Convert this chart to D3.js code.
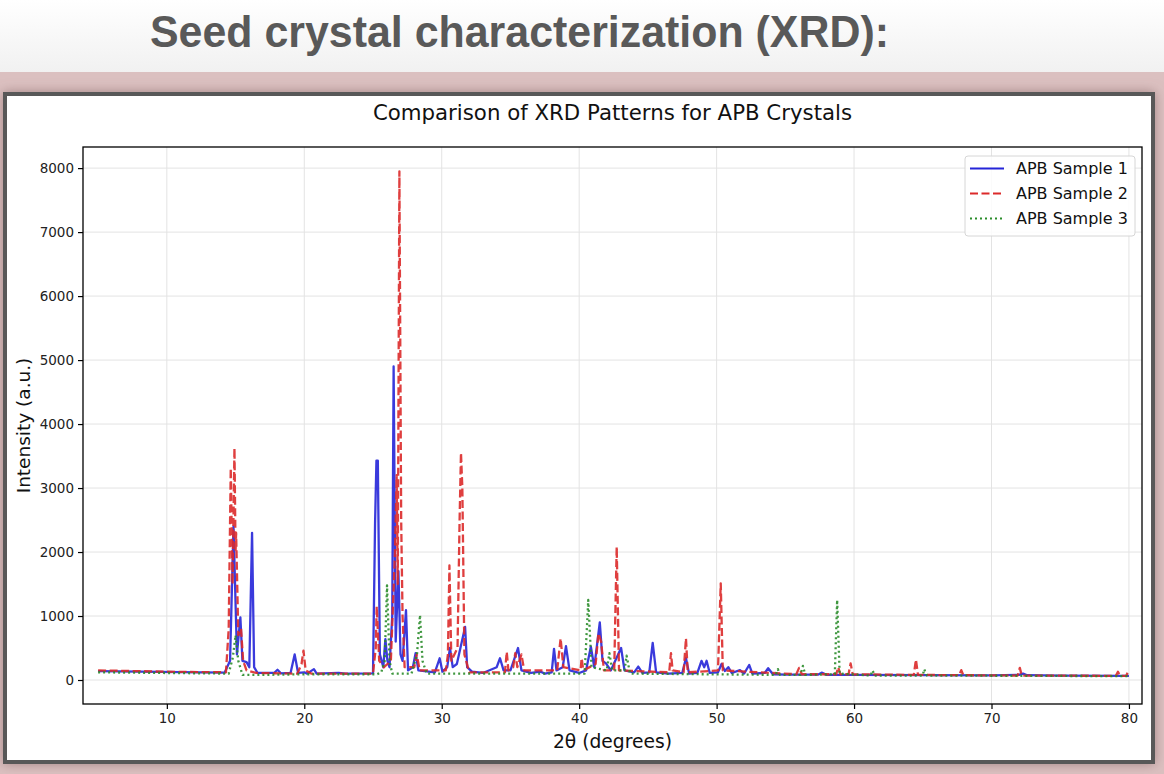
<!DOCTYPE html>
<html>
<head>
<meta charset="utf-8">
<script src="https://cdn.jsdelivr.net/npm/d3@7"></script>
<style>
  html, body { margin: 0; padding: 0; background: #fff; }
  svg { display: block; }
  text { font-family: "DejaVu Sans", sans-serif; }
</style>
</head>
<body>
<script>
// XRD comparison chart
var pageTitle = "Seed crystal characterization (XRD):";
var chartTitle = "Comparison of XRD Patterns for APB Crystals";
var seriesNames = ["APB Sample 1", "APB Sample 2", "APB Sample 3"];
var xTicks = [10, 20, 30, 40, 50, 60, 70, 80];
var yTicks = [0, 1000, 2000, 3000, 4000, 5000, 6000, 7000, 8000];

// [2theta, intensity]
var sample1 = [
  [5,140],[8,130],[11,122],[14.2,115],[14.6,300],[14.85,2400],[14.95,1600],[15.1,400],
  [15.35,980],[15.5,300],[15.8,280],[16.0,200],[16.2,2300],[16.35,200],[16.6,110],
  [17.8,110],[18.05,160],[18.3,105],[19.0,110],[19.3,400],[19.55,110],[20.0,120],
  [20.2,100],[20.7,170],[20.9,100],[22.5,110],[23,100],[25,105],[25.15,2450],
  [25.25,3430],[25.35,3430],[25.5,400],[25.75,200],[25.9,640],[26.05,300],[26.2,200],
  [26.4,1000],[26.5,4900],[26.65,600],[26.85,1700],[27.0,400],[27.15,300],[27.4,1090],
  [27.55,150],[27.9,200],[28.1,420],[28.3,150],[29.5,120],[29.85,340],[30.05,130],
  [30.4,200],[30.6,500],[30.8,200],[31.1,250],[31.7,830],[31.85,200],[32.2,130],
  [33,110],[34,200],[34.24,340],[34.5,150],[35,150],[35.55,500],[35.8,150],[36.5,110],
  [37.2,130],[37.5,100],[38,120],[38.17,485],[38.35,150],[38.8,200],[39.04,530],
  [39.3,150],[40,110],[40.5,150],[40.85,520],[41.1,200],[41.5,900],[41.7,300],
  [41.95,260],[42.3,150],[43.05,500],[43.3,150],[44,120],[44.3,210],[44.6,110],
  [45.1,120],[45.35,580],[45.6,120],[46.5,100],[47.5,110],[47.77,340],[48,100],
  [48.6,110],[48.9,300],[49.1,200],[49.27,300],[49.5,110],[50.1,120],[50.36,250],
  [50.6,140],[50.85,200],[51.1,110],[51.7,155],[52,100],[52.37,235],[52.6,100],
  [53.5,110],[53.75,185],[54.1,90],[55,85],[57.4,85],[57.64,115],[58,80],[60,80],
  [65,75],[70,73],[72,80],[72.3,100],[72.6,75],[75,70],[80,65]
];
var sample2 = [
  [5,150],[10,130],[14.3,120],[14.5,800],[14.65,3310],[14.78,1500],[14.92,3625],
  [15.0,2000],[15.04,2300],[15.2,700],[15.4,800],[15.55,300],[15.8,150],[16.5,110],
  [19.5,100],[19.8,250],[19.94,460],[20.1,150],[20.5,100],[25,100],[25.2,500],
  [25.27,1150],[25.45,300],[25.8,200],[26.3,300],[26.6,2000],[26.72,3200],[26.8,1500],
  [26.92,7950],[27.05,2500],[27.15,1000],[27.3,200],[28,200],[28.18,400],[28.4,150],
  [30.3,150],[30.45,400],[30.56,1790],[30.7,300],[31.15,500],[31.3,2500],[31.4,3550],
  [31.5,3000],[31.65,400],[32,120],[34.6,120],[34.73,440],[34.85,150],[35.2,200],
  [35.35,420],[35.5,200],[35.8,400],[36,150],[38.4,150],[38.65,650],[38.85,200],
  [40.1,150],[40.18,340],[40.3,150],[41.2,250],[41.4,730],[41.6,600],[41.8,150],
  [42.55,150],[42.73,2080],[42.9,150],[46.55,120],[46.68,420],[46.8,150],[47.6,120],
  [47.77,650],[47.9,120],[50.1,150],[50.3,1510],[50.45,150],[55.8,90],[56,190],
  [56.2,90],[58.7,90],[58.85,200],[59,90],[59.6,90],[59.75,260],[59.9,90],[64.35,80],
  [64.5,320],[64.65,80],[67.65,75],[67.8,155],[67.95,75],[71.9,70],[72.06,190],
  [72.2,70],[79.05,65],[79.2,130],[79.35,65],[79.8,65],[79.93,130],[80,100]
];
var sample3 = [
  [5,120],[14.5,100],[14.8,350],[15.0,700],[15.2,300],[15.5,80],[17,80],[20,90],
  [25.3,90],[25.6,120],[25.85,300],[26.02,1480],[26.2,300],[26.4,100],[27.8,100],
  [28.2,400],[28.42,1015],[28.6,300],[28.9,100],[40.4,100],[40.66,1250],[40.9,200],
  [42,150],[42.2,420],[42.4,150],[43.3,150],[43.45,380],[43.7,100],[54.3,80],
  [54.46,170],[54.6,80],[56.1,80],[56.28,220],[56.45,80],[58.6,90],[58.77,1250],
  [58.95,100],[61.2,70],[61.35,150],[61.5,70],[65,70],[65.1,170],[65.3,70],[80,60]
];

var width = 1164, height = 774;
var plot = { left: 83, right: 1142, top: 147, bottom: 704 };

var svg = d3.select("body").append("svg")
  .attr("width", width)
  .attr("height", height);

var defs = svg.append("defs");
var topGrad = defs.append("linearGradient").attr("id", "topGrad")
  .attr("x1", 0).attr("y1", 0).attr("x2", 0).attr("y2", 1);
topGrad.append("stop").attr("offset", "0%").attr("stop-color", "#ffffff");
topGrad.append("stop").attr("offset", "100%").attr("stop-color", "#f1f1f1");
var shadow = defs.append("filter").attr("id", "shadow")
  .attr("x", "-5%").attr("y", "-5%").attr("width", "110%").attr("height", "110%");
shadow.append("feDropShadow").attr("dx", 0).attr("dy", 0)
  .attr("stdDeviation", 6).attr("flood-color", "#8a6a6a").attr("flood-opacity", 0.7);
defs.append("clipPath").attr("id", "clip")
  .append("rect").attr("x", plot.left).attr("y", plot.top)
  .attr("width", plot.right - plot.left).attr("height", plot.bottom - plot.top);

// slide background
svg.append("rect").attr("width", width).attr("height", 72).attr("fill", "url(#topGrad)");
svg.append("rect").attr("y", 72).attr("width", width).attr("height", height - 72)
  .attr("fill", "#dbc0c0");

svg.append("text")
  .attr("x", 150).attr("y", 47)
  .attr("textLength", 739).attr("lengthAdjust", "spacingAndGlyphs")
  .style("font-family", "'Liberation Sans Narrow', 'Liberation Sans', Arial, sans-serif")
  .style("font-weight", "bold")
  .style("font-size", "45px")
  .attr("fill", "#595959")
  .text(pageTitle);

// framed figure
svg.append("rect")
  .attr("x", 5).attr("y", 94).attr("width", 1148).attr("height", 668)
  .attr("fill", "#ffffff").attr("stroke", "#585858").attr("stroke-width", 4)
  .attr("filter", "url(#shadow)");

var x = d3.scaleLinear().domain([3.9, 80.95]).range([plot.left, plot.right]);
var y = d3.scaleLinear().domain([-375, 8330]).range([plot.bottom, plot.top]);

// grid
var grid = svg.append("g").attr("stroke", "#e3e3e3").attr("stroke-width", 1);
grid.selectAll(".gx").data(xTicks).enter().append("line")
  .attr("x1", function(d) { return x(d); }).attr("x2", function(d) { return x(d); })
  .attr("y1", plot.top).attr("y2", plot.bottom);
grid.selectAll(".gy").data(yTicks).enter().append("line")
  .attr("y1", function(d) { return y(d); }).attr("y2", function(d) { return y(d); })
  .attr("x1", plot.left).attr("x2", plot.right);

// lines
var line = d3.line()
  .x(function(d) { return x(d[0]); })
  .y(function(d) { return y(d[1]); });

var styles = [
  { color: "#2525d8", dash: null },
  { color: "#dc2a2a", dash: "8,3.5" },
  { color: "#2a8c2a", dash: "2,3" }
];
var allSeries = [sample1, sample2, sample3];

svg.append("g").attr("clip-path", "url(#clip)")
  .selectAll("path").data(allSeries).enter().append("path")
  .attr("d", line)
  .attr("fill", "none")
  .attr("stroke", function(d, i) { return styles[i].color; })
  .attr("stroke-opacity", 0.9)
  .attr("stroke-width", 2.3)
  .attr("stroke-linejoin", "round")
  .attr("stroke-dasharray", function(d, i) { return styles[i].dash; });

// frame of the axes
svg.append("rect")
  .attr("x", plot.left).attr("y", plot.top)
  .attr("width", plot.right - plot.left).attr("height", plot.bottom - plot.top)
  .attr("fill", "none").attr("stroke", "#000").attr("stroke-width", 1.3);

var xAxis = svg.append("g")
  .attr("transform", "translate(0," + plot.bottom + ")")
  .call(d3.axisBottom(x).tickValues(xTicks).tickSize(5).tickPadding(4).tickFormat(d3.format("d")));
var yAxis = svg.append("g")
  .attr("transform", "translate(" + plot.left + ",0)")
  .call(d3.axisLeft(y).tickValues(yTicks).tickSize(5).tickPadding(4).tickFormat(d3.format("d")));
[xAxis, yAxis].forEach(function(a) {
  a.select(".domain").remove();
  a.selectAll("line").attr("stroke", "#000").attr("stroke-width", 1.2);
  a.selectAll("text")
    .style("font-family", "'DejaVu Sans', sans-serif")
    .style("font-size", "13.5px")
    .attr("fill", "#222");
});

svg.append("text")
  .attr("x", (plot.left + plot.right) / 2).attr("y", 120)
  .attr("text-anchor", "middle")
  .style("font-size", "21.3px").attr("fill", "#111")
  .text(chartTitle);

svg.append("text")
  .attr("x", (plot.left + plot.right) / 2).attr("y", 748)
  .attr("text-anchor", "middle")
  .style("font-size", "18.7px").attr("fill", "#111")
  .text("2θ (degrees)");

svg.append("text")
  .attr("transform", "translate(30," + ((plot.top + plot.bottom) / 2) + ")rotate(-90)")
  .attr("text-anchor", "middle")
  .style("font-size", "18.5px").attr("fill", "#111")
  .text("Intensity (a.u.)");

// legend
var legend = svg.append("g");
legend.append("rect")
  .attr("x", 965).attr("y", 156).attr("width", 170).attr("height", 80)
  .attr("rx", 3).attr("fill", "#fff").attr("fill-opacity", 0.85)
  .attr("stroke", "#d6d6d6");
var items = legend.selectAll(".item").data(seriesNames).enter().append("g")
  .attr("transform", function(d, i) { return "translate(0," + (168.5 + i * 25) + ")"; });
items.append("line")
  .attr("x1", 970).attr("x2", 1004)
  .attr("stroke", function(d, i) { return styles[i].color; })
  .attr("stroke-width", 2)
  .attr("stroke-dasharray", function(d, i) { return styles[i].dash; });
items.append("text")
  .attr("x", 1016).attr("dy", "0.35em")
  .style("font-size", "16px").attr("fill", "#111")
  .text(function(d) { return d; });
</script>
</body>
</html>
